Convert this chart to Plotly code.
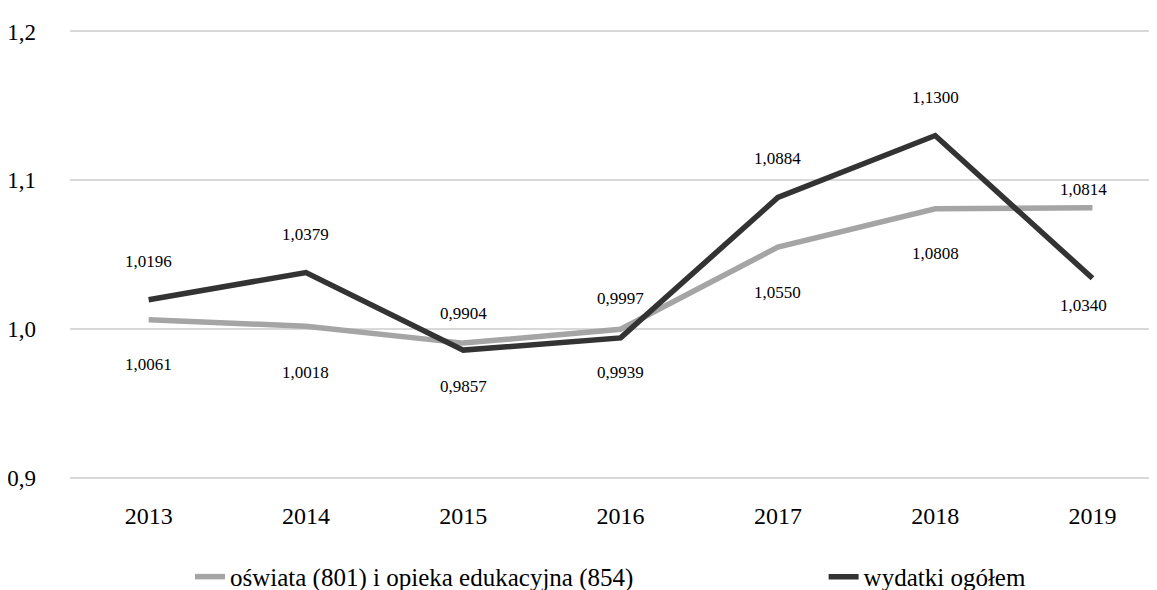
import plotly.graph_objects as go

years = [2013, 2014, 2015, 2016, 2017, 2018, 2019]
oswiata = [1.0061, 1.0018, 0.9904, 0.9997, 1.0550, 1.0808, 1.0814]
ogolem = [1.0196, 1.0379, 0.9857, 0.9939, 1.0884, 1.1300, 1.0340]
name_oswiata = "oświata (801) i opieka edukacyjna (854)"
name_ogolem = "wydatki ogółem"
y_ticks = [0.9, 1.0, 1.1, 1.2]
y_ticktext = ["0,9", "1,0", "1,1", "1,2"]

# label placement (pixel shifts, style only)
shift_oswiata = [-45, -46, 30, 31, -45, -45, 18]
shift_ogolem = [38, 38, -36, -35, 39, 38, -27]
xshift_last = -9

GRAY = "#a5a5a5"
DARK = "#333333"
FONT = "Liberation Serif"

fig = go.Figure()
fig.add_trace(go.Scatter(x=years, y=oswiata, mode="lines", name=name_oswiata,
                         line=dict(color=GRAY, width=5.5), legend="legend"))
fig.add_trace(go.Scatter(x=years, y=ogolem, mode="lines", name=name_ogolem,
                         line=dict(color=DARK, width=5.5), legend="legend2"))

def fmt(v):
    return f"{v:.4f}".replace(".", ",")

for series, shifts in ((oswiata, shift_oswiata), (ogolem, shift_ogolem)):
    for i, (yr, v) in enumerate(zip(years, series)):
        fig.add_annotation(
            x=yr, y=v, xref="x", yref="y", text=fmt(v), showarrow=False,
            yshift=shifts[i], xshift=(xshift_last if i == len(years) - 1 else 0),
            font=dict(family=FONT, size=17, color="#000000"))

legend_font = dict(family=FONT, size=25, color="#000000")
fig.update_layout(
    width=1149, height=582,
    margin=dict(l=62, r=0, t=22, b=111, autoexpand=False),
    paper_bgcolor="white", plot_bgcolor="white",
    font=dict(family=FONT, color="#000000"),
    showlegend=True,
    legend=dict(x=0.1104, xanchor="left", y=-0.218, yanchor="middle",
                font=legend_font, bgcolor="rgba(0,0,0,0)"),
    legend2=dict(x=0.6933, xanchor="left", y=-0.218, yanchor="middle",
                 font=legend_font, bgcolor="rgba(0,0,0,0)"),
    xaxis=dict(range=[2012.5, 2019.41], tickvals=years, showgrid=False, showline=False,
               zeroline=False, ticks="", tickfont=dict(family=FONT, size=24),
               ticklabelstandoff=20),
    yaxis=dict(range=[0.899, 1.201], tickvals=y_ticks, ticktext=y_ticktext,
               showgrid=True, gridcolor="#d9d9d9", gridwidth=2, zeroline=False,
               showline=False, ticks="", tickfont=dict(family=FONT, size=23),
               ticklabelstandoff=33),
)

fig.write_html("out.html")
